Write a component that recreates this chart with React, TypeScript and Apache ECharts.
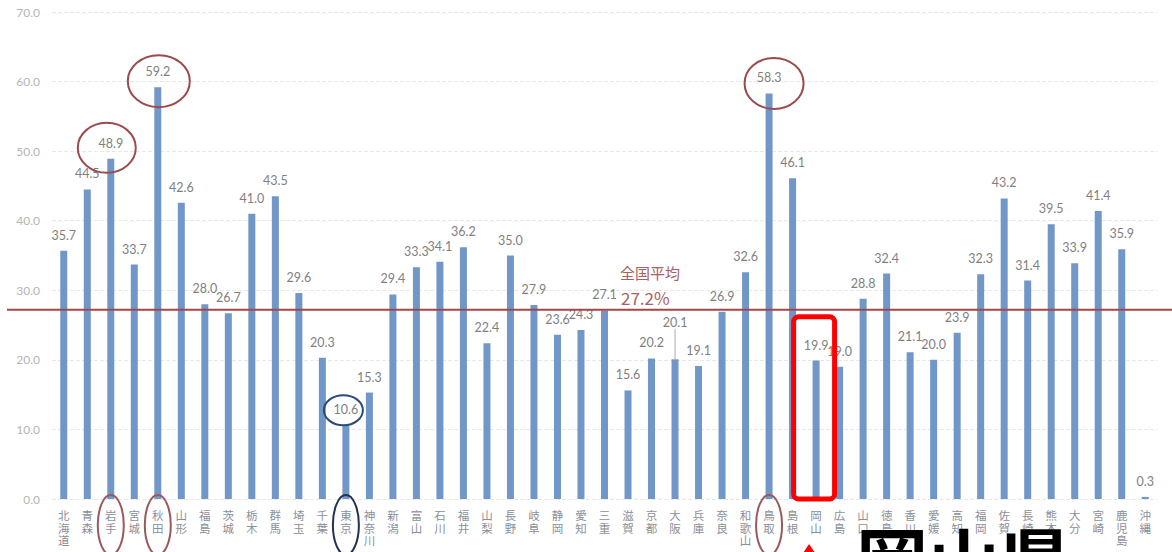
import React, { useEffect, useRef } from "react";
import * as echarts from "echarts";

// 都道府県別の割合（%）
const prefectures = [
  "北海道", "青森", "岩手", "宮城", "秋田", "山形", "福島", "茨城", "栃木", "群馬",
  "埼玉", "千葉", "東京", "神奈川", "新潟", "富山", "石川", "福井", "山梨", "長野",
  "岐阜", "静岡", "愛知", "三重", "滋賀", "京都", "大阪", "兵庫", "奈良", "和歌山",
  "鳥取", "島根", "岡山", "広島", "山口", "徳島", "香川", "愛媛", "高知", "福岡",
  "佐賀", "長崎", "熊本", "大分", "宮崎", "鹿児島", "沖縄",
];

const rates = [
  35.7, 44.5, 48.9, 33.7, 59.2, 42.6, 28.0, 26.7, 41.0, 43.5,
  29.6, 20.3, 10.6, 15.3, 29.4, 33.3, 34.1, 36.2, 22.4, 35.0,
  27.9, 23.6, 24.3, 27.1, 15.6, 20.2, 20.1, 19.1, 26.9, 32.6,
  58.3, 46.1, 19.9, 19.0, 28.8, 32.4, 21.1, 20.0, 23.9, 32.3,
  43.2, 31.4, 39.5, 33.9, 41.4, 35.9, 0.3,
];

const nationalAverage = 27.2;
const yTicks = [0, 10, 20, 30, 40, 50, 60, 70];

// Prefectures circled in the chart
const circledRed = ["岩手", "秋田", "鳥取"];
const circledBlue = ["東京"];
const highlighted = "岡山";
const raisedLabel = "大阪";

const MAROON = "#9c4a4c";
const NAVY = "#2b4a78";

export default function App() {
  const ref = useRef<HTMLDivElement>(null);

  useEffect(() => {
    document.body.style.margin = "0";
    const chart = echarts.init(ref.current!, null, { renderer: "svg" });

    chart.setOption({
      animation: false,
      backgroundColor: "#ffffff",
      grid: { left: 52, right: 15, top: 12, bottom: 53 },
      xAxis: {
        type: "category",
        data: prefectures,
        axisLine: { show: false },
        axisTick: { show: false },
        axisLabel: {
          interval: 0,
          margin: 10,
          color: "#8a8f99",
          fontFamily: "Noto Sans CJK JP",
          fontSize: 11.5,
          lineHeight: 12.5,
          verticalAlign: "top",
          formatter: (v: string) => v.split("").join("\n"),
        },
      },
      yAxis: {
        type: "value",
        min: yTicks[0],
        max: yTicks[yTicks.length - 1],
        interval: 10,
        axisLine: { show: false },
        axisTick: { show: false },
        axisLabel: {
          margin: 12,
          color: "#b4b4b4",
          fontFamily: "Lato",
          fontSize: 12,
          formatter: (v: number) => v.toFixed(1),
        },
        splitLine: { lineStyle: { color: "#e8e8e8", type: "dashed", width: 1 } },
      },
      series: [
        {
          type: "bar",
          barWidth: 7,
          itemStyle: { color: "#7097c8" },
          data: rates.map((v, i) =>
            prefectures[i] === raisedLabel
              ? { value: v, labelLine: { show: true } }
              : v
          ),
          label: {
            show: true,
            position: "top",
            distance: 9,
            color: "#7f7f7f",
            fontFamily: "Lato",
            fontSize: 12.5,
            formatter: (p: any) => Number(p.value).toFixed(1),
          },
          labelLine: {
            show: false,
            lineStyle: { color: "#aaaaaa", width: 1 },
          },
          labelLayout: (p: any) =>
            prefectures[p.dataIndex] === raisedLabel ? { dy: -21 } : {},
        },
      ],
    });

    const px = (name: string) =>
      chart.convertToPixel({ xAxisIndex: 0 }, name) as number;
    const py = (v: number) => chart.convertToPixel({ yAxisIndex: 0 }, v) as number;

    const avgY = py(nationalAverage);
    const zeroY = py(0);
    const valueOf = (name: string) => rates[prefectures.indexOf(name)];

    const graphics: any[] = [
      {
        type: "line",
        shape: { x1: 7, y1: avgY, x2: 1172, y2: avgY },
        style: { stroke: "#a2474a", lineWidth: 2 },
        z: 10,
      },
      {
        type: "text",
        x: 620,
        y: avgY - 37,
        style: {
          text: "全国平均",
          fill: "#a8615f",
          font: "15px 'Noto Sans CJK JP'",
          verticalAlign: "middle",
        },
        z: 10,
      },
      {
        type: "text",
        x: 621,
        y: avgY - 12,
        style: {
          text: nationalAverage.toFixed(1) + "%",
          fill: "#a8615f",
          font: "17px 'Noto Sans CJK JP'",
          verticalAlign: "middle",
        },
        z: 10,
      },
    ];

    // Ellipses around the value labels
    const valueEllipse = (name: string, dx: number, dy: number, rx: number, ry: number, color: string) => ({
      type: "ellipse",
      shape: { cx: px(name) + dx, cy: py(valueOf(name)) + dy, rx, ry },
      style: { fill: "none", stroke: color, lineWidth: 2 },
      z: 20,
    });
    graphics.push(valueEllipse("岩手", -4, -11, 29, 25, MAROON));
    graphics.push(valueEllipse("秋田", 1, -6, 31, 26, MAROON));
    graphics.push(valueEllipse("鳥取", 5, -10, 29.5, 25.5, MAROON));
    graphics.push(valueEllipse("東京", -2.5, -15, 19.5, 15, NAVY));

    // Ellipses around the category names
    circledRed.concat(circledBlue).forEach((name) => {
      graphics.push({
        type: "ellipse",
        shape: { cx: px(name), cy: zeroY + 26, rx: 13, ry: 30 },
        style: {
          fill: "none",
          stroke: circledBlue.includes(name) ? "#24324f" : "#9a5a5c",
          lineWidth: 2,
        },
        z: 20,
      });
    });

    // Highlight frame around 岡山
    const hx = px(highlighted);
    graphics.push({
      type: "rect",
      shape: { x: hx - 22.5, y: avgY + 7, width: 41, height: zeroY - avgY - 7, r: 5 },
      style: { fill: "none", stroke: "#ff0000", lineWidth: 5 },
      z: 30,
    });
    graphics.push({
      type: "polygon",
      shape: { points: [[hx - 7, 544], [hx - 13, 553], [hx - 1, 553]] },
      style: { fill: "#ff0000" },
      z: 30,
    });
    graphics.push({
      type: "text",
      x: 856,
      y: 592,
      style: {
        text: "岡山県",
        fill: "#000000",
        font: "bold 72px 'Noto Sans CJK JP'",
        verticalAlign: "bottom",
      },
      z: 30,
    });

    chart.setOption({ graphic: graphics });

    return () => chart.dispose();
  }, []);

  return <div ref={ref} style={{ width: 1172, height: 552 }} />;
}
